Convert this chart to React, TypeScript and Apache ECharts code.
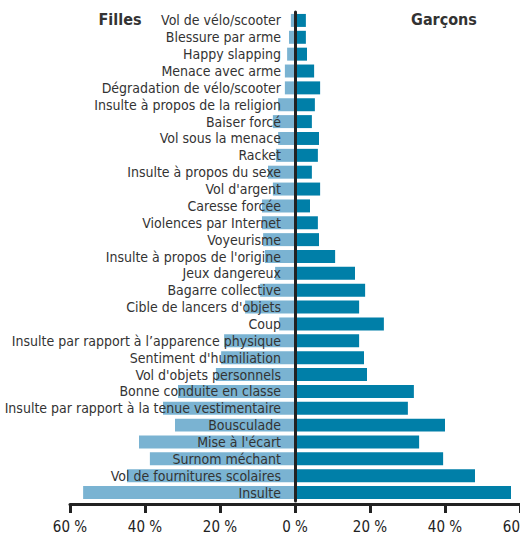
import React, { useEffect, useRef } from "react";
import * as echarts from "echarts";

const categories = [
  "Vol de vélo/scooter",
  "Blessure par arme",
  "Happy slapping",
  "Menace avec arme",
  "Dégradation de vélo/scooter",
  "Insulte à propos de la religion",
  "Baiser forcé",
  "Vol sous la menace",
  "Racket",
  "Insulte à propos du sexe",
  "Vol d'argent",
  "Caresse forcée",
  "Violences par Internet",
  "Voyeurisme",
  "Insulte à propos de l'origine",
  "Jeux dangereux",
  "Bagarre collective",
  "Cible de lancers d'objets",
  "Coup",
  "Insulte par rapport à l’apparence physique",
  "Sentiment d'humiliation",
  "Vol d'objets personnels",
  "Bonne conduite en classe",
  "Insulte par rapport à la tenue vestimentaire",
  "Bousculade",
  "Mise à l'écart",
  "Surnom méchant",
  "Vol de fournitures scolaires",
  "Insulte",
];

const filles = [
  1.1, 1.6, 2.1, 2.7, 2.7, 4.5, 5.9, 4.5, 5.1, 7.2, 5.9, 8.8, 8.8, 8.5, 8.0,
  5.3, 9.3, 13.3, 4.2, 18.9, 19.7, 21.1, 31.2, 35.2, 32.0, 41.6, 38.7, 44.8,
  56.5,
];

const garcons = [
  2.9, 2.9, 3.2, 5.1, 6.7, 5.3, 4.5, 6.4, 6.1, 4.5, 6.7, 4.0, 6.1, 6.4, 10.7,
  16.0, 18.7, 17.1, 23.7, 17.1, 18.4, 19.2, 31.7, 30.1, 40.0, 33.1, 39.5, 48.0,
  57.6,
];

const xTicks = { min: 0, max: 60, interval: 20 };

const FONT = "'DejaVu Sans Condensed', 'Liberation Sans Narrow', sans-serif";
const DARK = "#222222";

export default function App() {
  const ref = useRef<HTMLDivElement>(null);

  useEffect(() => {
    if (!ref.current) return;
    const chart = echarts.init(ref.current, null, { renderer: "svg" });
    const xBase = {
      type: "value",
      min: xTicks.min,
      max: xTicks.max,
      interval: xTicks.interval,
      offset: 3,
      axisLine: { show: true, onZero: false, lineStyle: { color: DARK, width: 3 } },
      axisTick: { show: true, length: 9, lineStyle: { color: DARK, width: 3 } },
      splitLine: { show: false },
    };
    const labelBase = {
      margin: 15,
      fontSize: 15,
      color: DARK,
      fontFamily: FONT,
      hideOverlap: false,
    };
    chart.setOption({
      animation: false,
      backgroundColor: "#ffffff",
      grid: [
        { left: 70, right: 225, top: 12, bottom: 33, containLabel: false, outerBoundsMode: "none" },
        { left: 295, right: 0, top: 12, bottom: 33, containLabel: false, outerBoundsMode: "none" },
      ],
      graphic: [
        {
          type: "text",
          x: 120,
          y: 19,
          style: {
            text: "Filles",
            fontSize: 16,
            fontWeight: "bold",
            fontFamily: FONT,
            fill: "#333333",
            align: "center",
            verticalAlign: "middle",
          },
        },
        {
          type: "text",
          x: 444,
          y: 19,
          style: {
            text: "Garçons",
            fontSize: 16,
            fontWeight: "bold",
            fontFamily: FONT,
            fill: "#333333",
            align: "center",
            verticalAlign: "middle",
          },
        },
      ],
      xAxis: [
        {
          ...xBase,
          gridIndex: 0,
          inverse: true,
          axisLabel: { ...labelBase, showMinLabel: true, showMaxLabel: true, formatter: (v: number) => v + " %" },
        },
        {
          ...xBase,
          gridIndex: 1,
          axisLabel: {
            ...labelBase,
            showMinLabel: false,
            showMaxLabel: true,
            formatter: (v: number) => (v === 0 ? "" : v + " %"),
          },
        },
      ],
      yAxis: [
        {
          type: "category",
          gridIndex: 0,
          data: categories,
          inverse: true,
          position: "right",
          z: 10,
          axisLine: { show: true, onZero: false, lineStyle: { color: DARK, width: 3 } },
          axisTick: { show: false },
          axisLabel: {
            inside: true,
            margin: 14,
            fontSize: 14,
            color: "#333333",
            fontFamily: FONT,
            interval: 0,
            align: "right",
          },
        },
        {
          type: "category",
          gridIndex: 1,
          data: categories,
          inverse: true,
          show: false,
        },
      ],
      series: [
        {
          name: "Filles",
          type: "bar",
          xAxisIndex: 0,
          yAxisIndex: 0,
          data: filles,
          barCategoryGap: "23%",
          itemStyle: { color: "#7ab3d2" },
        },
        {
          name: "Garçons",
          type: "bar",
          xAxisIndex: 1,
          yAxisIndex: 1,
          data: garcons,
          barCategoryGap: "23%",
          itemStyle: { color: "#007fa8" },
        },
      ],
    });
    return () => chart.dispose();
  }, []);

  return (
    <div
      ref={ref}
      style={{ position: "fixed", left: 0, top: 0, width: 520, height: 534 }}
    />
  );
}
